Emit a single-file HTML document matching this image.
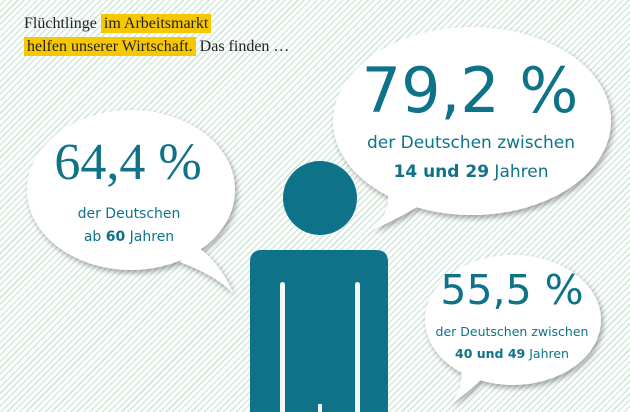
<!DOCTYPE html>
<html><head><meta charset="utf-8"><style>
html,body{margin:0;padding:0}
body{width:630px;height:412px;overflow:hidden;position:relative;font-family:"Liberation Sans",sans-serif;
background:repeating-linear-gradient(135deg,#fff 0 3px,#d3e8dc 3px 4.5px);}
svg{position:absolute;left:0;top:0}
.t{position:absolute;font-family:"Liberation Serif",serif;font-size:16px;color:#222;left:24px}
.h{background:#f7c800;padding:1px 3px}
</style></head><body>
<div class="t" style="top:15px">Flüchtlinge <span class="h">im Arbeitsmarkt</span></div>
<div class="t" style="top:38px"><span class="h">helfen unserer Wirtschaft.</span> Das finden …</div>
<svg width="630" height="412" viewBox="0 0 630 412">
<defs><filter id="sh" x="-20%" y="-20%" width="140%" height="140%"><feDropShadow dx="2" dy="3" stdDeviation="3" flood-color="#000" flood-opacity="0.35"/></filter></defs>
<g fill="#0e7389">
<circle cx="320" cy="198" r="37"/>
<path d="M262 250 H376 Q388 250 388 262 V412 H250 V262 Q250 250 262 250Z"/>
<rect x="280" y="282" width="5" height="140" rx="2.5" fill="#f4f8f5"/>
<rect x="355" y="282" width="5" height="140" rx="2.5" fill="#f4f8f5"/>
<rect x="318" y="404" width="4" height="10" fill="#f4f8f5"/>
</g>
<g filter="url(#sh)" fill="#fff">
<ellipse cx="131" cy="190" rx="104" ry="80"/>
<path d="M195 245 Q220 262 233 293 Q215 275 180 262Z"/>
</g>
<g filter="url(#sh)" fill="#fff">
<ellipse cx="472" cy="121" rx="139" ry="94"/>
<path d="M385 180 Q395 210 372 230 Q400 218 420 205Z"/>
</g>
<g filter="url(#sh)" fill="#fff">
<ellipse cx="513" cy="320" rx="88" ry="65"/>
<path d="M460 360 Q466 388 449 405 Q470 392 485 375Z"/>
</g>
<g fill="#0e7389" text-anchor="middle" font-family="'DejaVu Sans','Liberation Sans',sans-serif">
<text x="128" y="179" font-size="52" font-family="'Liberation Serif',serif">64,4 %</text>
<text x="129" y="218" font-size="14">der Deutschen</text>
<text x="129" y="241" font-size="14">ab <tspan font-weight="bold">60</tspan> Jahren</text>
<text x="470" y="112" font-size="62">79,2 %</text>
<text x="471" y="148" font-size="17">der Deutschen zwischen</text>
<text x="471" y="177" font-size="17"><tspan font-weight="bold">14 und 29</tspan> Jahren</text>
<text x="512" y="304" font-size="41">55,5 %</text>
<text x="512" y="336" font-size="12.5">der Deutschen zwischen</text>
<text x="512" y="358" font-size="12.5"><tspan font-weight="bold">40 und 49</tspan> Jahren</text>
</g>
</svg>
</body></html>
